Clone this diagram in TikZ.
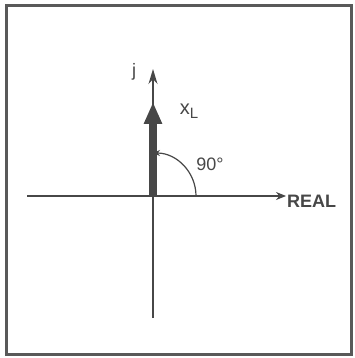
\documentclass[tikz,border=0pt]{standalone}
\usepackage{fontspec}
\setmainfont{Liberation Sans}
\usetikzlibrary{arrows.meta}
\definecolor{ink}{HTML}{474747}
\begin{document}
\begin{tikzpicture}[x=1pt,y=-1pt,
  axis/.style={draw=ink,line width=1.3pt},
  lbl/.style={text=ink,font=\fontsize{18}{18}\selectfont\bfseries,inner sep=0pt}]
\useasboundingbox (0,0) rectangle (354,358);
\fill[white] (0,0) rectangle (354,358);
\draw[draw=ink!90,line width=3pt] (6,6) rectangle (351,354);
\coordinate (O) at (153,196);
\coordinate (L) at (27,196);
\coordinate (R) at (286,196);
\coordinate (T) at (153,69);
\coordinate (B) at (153,318);
\coordinate (XT) at (153,102);
\coordinate (A0) at (196,196);
\draw[axis] (L) -- (O);
\draw[axis,-{Stealth[length=10pt,width=8pt]}] (O) -- (R);
\draw[axis,-{Stealth[length=15pt,width=9pt]}] (B) -- (T);
\draw[ink,line width=8pt,-{Triangle[length=22pt,width=17pt]}] (O) -- (XT);
\draw[axis,line width=1.2pt,-{Stealth[length=7pt,width=6pt]}] (A0) arc[start angle=0,end angle=-90,radius=43];
\node[lbl,anchor=west] (real) at (287,201) {REAL};
\node[lbl,font=\fontsize{18}{18}\selectfont] (j) at (134,72) {j};
\node[lbl,font=\fontsize{20}{20}\selectfont] (xl) at (189,111) {x\raisebox{-0.4ex}{\fontsize{15}{15}\selectfont L}};
\node[lbl,font=\fontsize{18}{18}\selectfont] (deg) at (210,164) {90°};
\end{tikzpicture}
\end{document}
